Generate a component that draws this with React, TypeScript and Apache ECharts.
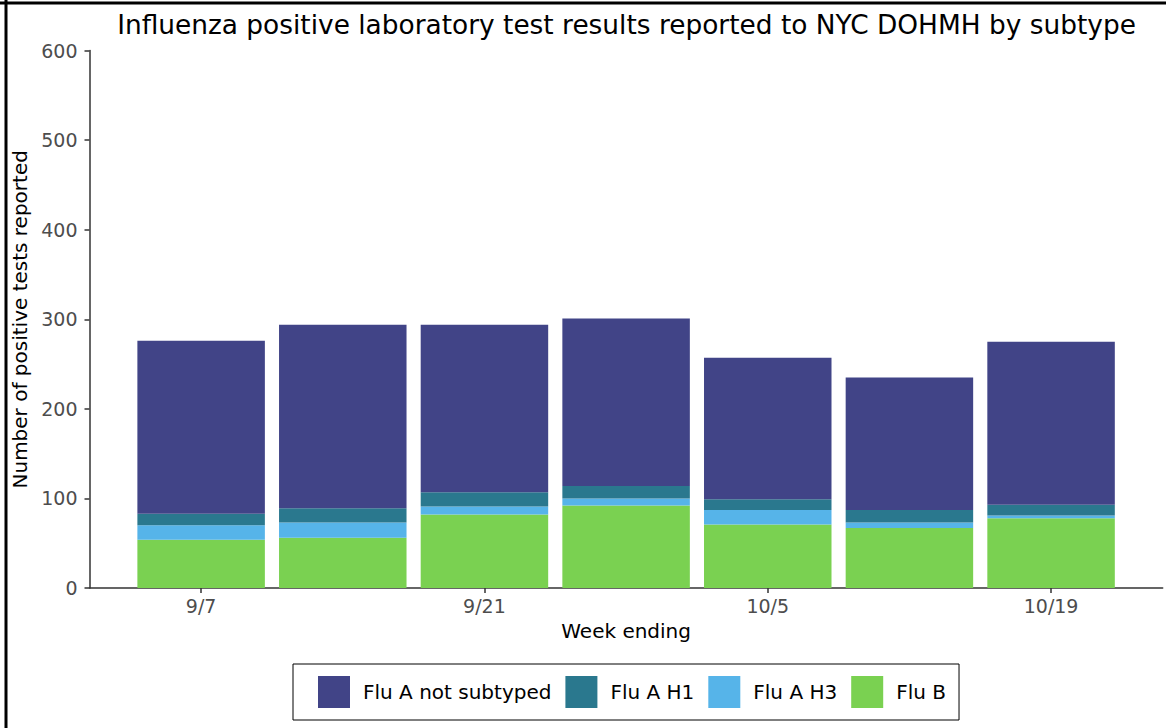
import React, { useEffect, useRef } from "react";
import * as echarts from "echarts";

const weeks = ["9/7", "9/14", "9/21", "9/28", "10/5", "10/12", "10/19"];
const fluB = [54, 56, 82, 92, 71, 67, 78];
const fluAH3 = [16, 17, 9, 8, 16, 6, 3];
const fluAH1 = [13, 16, 16, 14, 12, 14, 12];
const fluANotSubtyped = [193, 205, 187, 187, 158, 148, 182];
const yMax = 600;
const yStep = 100;

const FONT = "DejaVu Sans";

export default function App() {
  const ref = useRef<HTMLDivElement>(null);
  useEffect(() => {
    const chart = echarts.init(ref.current!, null, { renderer: "svg" });
    const mk = (name: string, vals: number[], color: string) => ({
      name,
      type: "bar",
      stack: "total",
      xAxisIndex: 1,
      yAxisIndex: 1,
      barWidth: "90%",
      itemStyle: { color },
      data: vals,
    });
    // full plot panel
    const panelLeft = 89.5;
    const panelRight = 1162.7;
    const top = 50.6;
    const bottom = 140;
    // ggplot-like discrete expansion (extra fraction of a band on each side)
    const extra = 0.288;
    const n = weeks.length;
    const band = (panelRight - panelLeft) / (n + 2 * extra);
    const innerLeft = panelLeft + extra * band;
    const innerRight = 1166 - (panelRight - extra * band);
    chart.setOption({
      animation: false,
      backgroundColor: "#ffffff",
      textStyle: { fontFamily: FONT },
      title: {
        text: "Influenza positive laboratory test results reported to NYC DOHMH by subtype",
        left: 621.5,
        textAlign: "center",
        top: 6,
        textStyle: { fontFamily: FONT, fontSize: 26.4, fontWeight: "normal", color: "#000" },
      },
      grid: [
        { left: panelLeft, right: 1166 - panelRight, top, bottom, containLabel: false },
        { left: innerLeft, right: innerRight, top, bottom, containLabel: false },
      ],
      legend: {
        data: ["Flu A not subtyped", "Flu A H1", "Flu A H3", "Flu B"],
        left: 293,
        top: 664,
        padding: [12, 13, 12, 25],
        itemWidth: 32,
        itemHeight: 32,
        itemGap: 14,
        borderColor: "#000",
        borderWidth: 1,
        borderRadius: 0,
        icon: "rect",
        textStyle: { fontFamily: FONT, fontSize: 20, color: "#000", padding: [0, 0, 0, 8] },
      },
      xAxis: [
        {
          type: "value",
          gridIndex: 0,
          min: 0,
          max: 1,
          name: "Week ending",
          nameLocation: "middle",
          nameGap: 33,
          nameTextStyle: { fontFamily: FONT, fontSize: 20, color: "#000" },
          splitLine: { show: false },
          axisLine: { show: true, lineStyle: { color: "#333", width: 1.5 } },
          axisTick: { show: false },
          axisLabel: { show: false },
        },
        {
          type: "category",
          gridIndex: 1,
          data: weeks,
          axisLine: { show: false },
          axisTick: { show: true, length: 5, interval: 1, alignWithLabel: true, lineStyle: { color: "#333", width: 1.5 } },
          axisLabel: { interval: 1, fontFamily: FONT, fontSize: 19, color: "#4d4d4d", margin: 8 },
        },
      ],
      yAxis: [
        {
          type: "value",
          gridIndex: 0,
          min: 0,
          max: yMax,
          interval: yStep,
          name: "Number of positive tests reported",
          nameLocation: "middle",
          nameGap: 56,
          nameTextStyle: { fontFamily: FONT, fontSize: 20, color: "#000" },
          splitLine: { show: false },
          axisLine: { show: true, lineStyle: { color: "#333", width: 1.5 } },
          axisTick: { show: true, length: 5, lineStyle: { color: "#333", width: 1.5 } },
          axisLabel: { fontFamily: FONT, fontSize: 19, color: "#4d4d4d", margin: 12 },
        },
        {
          type: "value",
          gridIndex: 1,
          min: 0,
          max: yMax,
          interval: yStep,
          show: false,
          splitLine: { show: false },
        },
      ],
      graphic: [
        { type: "line", shape: { x1: 6, y1: 0, x2: 6, y2: 728 }, style: { stroke: "#000", lineWidth: 3 } },
        { type: "line", shape: { x1: 0, y1: 3, x2: 1166, y2: 3 }, style: { stroke: "#000", lineWidth: 3 } },
      ],
      series: [
        mk("Flu B", fluB, "#7AD151"),
        mk("Flu A H3", fluAH3, "#56B4E9"),
        mk("Flu A H1", fluAH1, "#2A788E"),
        mk("Flu A not subtyped", fluANotSubtyped, "#414487"),
      ],
    });
    return () => chart.dispose();
  }, []);
  return (
    <div
      ref={ref}
      style={{ position: "absolute", left: 0, top: 0, width: 1166, height: 728 }}
    />
  );
}
